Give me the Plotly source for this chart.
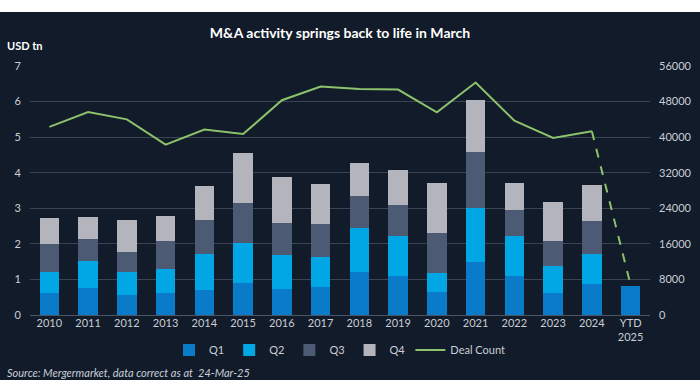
import plotly.graph_objects as go

categories = ["2010", "2011", "2012", "2013", "2014", "2015", "2016", "2017",
              "2018", "2019", "2020", "2021", "2022", "2023", "2024", "YTD<br>2025"]
q1 = [0.63, 0.76, 0.57, 0.63, 0.70, 0.89, 0.74, 0.79, 1.22, 1.10, 0.65, 1.49, 1.09, 0.63, 0.87, 0.82]
q2 = [0.59, 0.76, 0.65, 0.65, 1.02, 1.13, 0.96, 0.83, 1.23, 1.13, 0.52, 1.52, 1.14, 0.75, 0.84, None]
q3 = [0.78, 0.61, 0.55, 0.79, 0.95, 1.14, 0.90, 0.94, 0.89, 0.86, 1.14, 1.56, 0.73, 0.71, 0.94, None]
q4 = [0.73, 0.63, 0.90, 0.71, 0.96, 1.40, 1.29, 1.12, 0.93, 1.00, 1.41, 1.48, 0.74, 1.10, 1.00, None]
deal_count = [42300, 45650, 44000, 38300, 41700, 40700, 48300, 51400,
              50800, 50700, 45600, 52300, 43700, 39800, 41300]
deal_count_ytd = 6750

BG = "#111b29"
colors = {"Q1": "#0a7bc9", "Q2": "#00a7e4", "Q3": "#4c5a74", "Q4": "#b4b4bc"}
GREEN = "#8dc26c"
FONT = "Lato"

fig = go.Figure()
for name, vals in [("Q1", q1), ("Q2", q2), ("Q3", q3), ("Q4", q4)]:
    fig.add_trace(go.Bar(x=categories, y=vals, name=name, marker_color=colors[name],
                         marker_line_width=0, width=0.5))

fig.add_trace(go.Scatter(x=categories[:15], y=deal_count, name="Deal Count", mode="lines",
                         line=dict(color=GREEN, width=2), yaxis="y2"))
fig.add_trace(go.Scatter(x=[categories[14], categories[15]], y=[deal_count[-1], deal_count_ytd],
                         mode="lines", line=dict(color=GREEN, width=2, dash="dash"),
                         yaxis="y2", showlegend=False, hoverinfo="skip"))

L, R, T, B = 30, 50, 66, 75
W, H = 700, 390
pw, ph = W - L - R, H - T - B

def px(x):
    return (x - L) / pw

def py(y):
    return (H - B - y) / ph

fig.add_shape(type="rect", xref="paper", yref="paper", layer="below",
              x0=px(0), x1=px(W), y0=py(380), y1=py(12),
              fillcolor=BG, line_width=0)

fig.update_layout(
    width=W, height=H,
    margin=dict(l=L, r=R, t=T, b=B, autoexpand=False),
    paper_bgcolor="white",
    plot_bgcolor="rgba(0,0,0,0)",
    barmode="stack",
    bargap=0.5,
    font=dict(family=FONT, color="#c9ced6", size=11),
    title=dict(text="<b>M&A activity springs back to life in March</b>",
               x=0.5, xref="paper", xanchor="center",
               y=1 - 33 / H, yanchor="middle", yref="container",
               font=dict(family=FONT, size=14, color="white")),
    xaxis=dict(showgrid=False, showline=False, ticks="", tickfont=dict(size=11, color="#c9ced6"),
               fixedrange=True, automargin=False),
    yaxis=dict(range=[0, 7], dtick=1, showgrid=True, gridcolor="#3a4454", gridwidth=1,
               zeroline=True, zerolinecolor="#4a5566", zerolinewidth=1, automargin=False,
               tickfont=dict(size=11, color="#c9ced6"), ticklabelstandoff=8),
    yaxis2=dict(range=[0, 56000], dtick=8000, overlaying="y", side="right", showgrid=False,
                zeroline=False, tickfont=dict(size=11, color="#c9ced6"), ticklabelstandoff=8,
                tickformat="d", automargin=False),
    legend=dict(orientation="h", x=0.5, xanchor="center", y=py(350), yanchor="middle",
                font=dict(size=11, color="#c9ced6"), traceorder="normal",
                bgcolor="rgba(0,0,0,0)", itemwidth=30),
    showlegend=True,
)

fig.add_annotation(text="<b>USD tn</b>", xref="paper", yref="paper", x=px(5), y=py(46),
                   xanchor="left", yanchor="middle", showarrow=False,
                   font=dict(family=FONT, size=11, color="white"))
fig.add_annotation(text="<i>Source: Mergermarket, data correct as at  24-Mar-25</i>",
                   xref="paper", yref="paper", x=px(5), y=py(372),
                   xanchor="left", yanchor="middle", showarrow=False,
                   font=dict(family=FONT, size=11, color="#c9ced6"))

fig.write_html("out.html", config={"displayModeBar": False},
               post_script="document.body.style.margin='0';")
